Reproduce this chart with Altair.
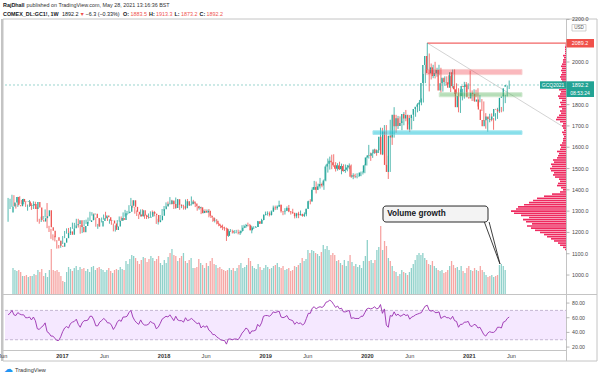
import altair as alt
import pandas as pd

FONT = "Liberation Sans"

# ---------------- data ----------------
FIRST_WEEK = "2016-06-20"          # first weekly bar (Monday)
FIRST_OPEN = 1294.0
LAST_OPEN = 1883.5

CLOSE_2016 = [1322,1340,1366,1328,1323,1357,1344,1343,1345,1324,1327,1334,1310,1343,1317,1257,1251,1267,1276,1304,1224,1208,1178,1177,1161,1137,1133,1152]
HIGH_2016 = [1362,1358,1377,1375,1336,1367,1370,1352,1358,1346,1331,1352,1337,1346,1344,1318,1264,1274,1277,1308,1338,1231,1217,1191,1184,1164,1141,1161]
LOW_2016 = [1250,1310,1320,1324,1312,1320,1335,1331,1332,1320,1302,1320,1306,1311,1310,1250,1241,1249,1260,1270,1220,1202,1170,1163,1158,1124,1125,1128]

CLOSE_2017 = [1173,1197,1205,1189,1220,1234,1239,1257,1226,1201,1230,1249,1249,1257,1285,1288,1268,1228,1228,1254,1267,1280,1271,1255,1256,1242,1212,1228,1255,1268,1258,1290,1291,1297,1325,1351,1320,1297,1284,1275,1304,1280,1272,1269,1274,1296,1288,1282,1248,1257,1278,1309]
HIGH_2017 = [1183,1207,1219,1221,1225,1246,1245,1264,1264,1235,1233,1258,1260,1270,1297,1295,1290,1270,1240,1264,1270,1284,1297,1273,1262,1259,1242,1233,1258,1275,1275,1294,1306,1301,1328,1362,1342,1317,1303,1285,1308,1309,1283,1283,1289,1299,1303,1301,1281,1264,1282,1310]
LOW_2017 = [1146,1173,1194,1185,1188,1217,1220,1234,1223,1194,1197,1228,1240,1241,1254,1279,1259,1227,1217,1227,1247,1260,1264,1254,1241,1236,1205,1204,1226,1251,1255,1254,1274,1281,1289,1324,1316,1288,1277,1263,1276,1277,1264,1263,1265,1273,1283,1276,1240,1237,1253,1280]

CLOSE_2018 = [1322,1335,1333,1350,1333,1315,1356,1330,1323,1323,1313,1347,1327,1332,1345,1336,1323,1314,1318,1291,1301,1294,1302,1278,1270,1254,1255,1241,1231,1223,1220,1219,1184,1206,1206,1200,1201,1201,1196,1207,1222,1229,1235,1234,1210,1223,1223,1226,1252,1241,1258,1283,1287]
HIGH_2018 = [1324,1341,1345,1366,1353,1346,1364,1357,1333,1331,1330,1355,1357,1345,1369,1353,1339,1318,1325,1321,1307,1309,1308,1310,1281,1270,1267,1263,1245,1235,1237,1227,1223,1215,1216,1213,1211,1212,1213,1210,1234,1236,1240,1246,1240,1231,1229,1230,1254,1251,1264,1284,1298]
LOW_2018 = [1301,1318,1324,1331,1331,1310,1311,1329,1306,1314,1307,1307,1324,1325,1339,1334,1319,1302,1307,1286,1289,1291,1292,1271,1268,1250,1247,1238,1229,1220,1211,1208,1160,1179,1202,1195,1194,1196,1191,1188,1203,1220,1222,1228,1210,1196,1216,1222,1226,1240,1243,1257,1280]

CLOSE_2019 = [1289,1282,1298,1317,1314,1322,1329,1299,1298,1302,1315,1298,1295,1291,1276,1289,1281,1287,1277,1285,1311,1346,1345,1400,1413,1400,1416,1427,1420,1444,1509,1523,1537,1529,1515,1499,1515,1497,1512,1488,1494,1505,1514,1462,1468,1463,1465,1465,1481,1481,1515,1552]
HIGH_2019 = [1299,1298,1303,1326,1326,1327,1349,1332,1301,1314,1322,1329,1300,1311,1293,1292,1297,1303,1288,1294,1311,1349,1356,1412,1442,1439,1429,1456,1434,1449,1518,1547,1556,1565,1567,1530,1525,1532,1523,1520,1519,1517,1524,1519,1478,1476,1478,1481,1486,1487,1519,1556]
LOW_2019 = [1279,1275,1279,1297,1305,1306,1319,1293,1281,1284,1300,1295,1284,1287,1266,1267,1267,1280,1274,1273,1276,1310,1332,1346,1400,1383,1399,1406,1412,1400,1440,1481,1495,1497,1508,1486,1490,1493,1473,1485,1480,1487,1497,1456,1450,1455,1454,1460,1464,1472,1478,1514]

CLOSE_2020 = [1562,1560,1572,1589,1573,1586,1649,1566,1674,1517,1484,1654,1646,1752,1698,1736,1700,1714,1756,1735,1751,1683,1737,1753,1780,1790,1801,1810,1901,1986,2028,1949,1947,1975,1934,1947,1962,1866,1900,1926,1906,1905,1879,1952,1887,1872,1788,1840,1840,1888,1883,1895]
HIGH_2020 = [1611,1575,1575,1593,1590,1589,1692,1691,1704,1704,1560,1729,1660,1788,1748,1747,1745,1722,1765,1775,1753,1744,1745,1776,1788,1807,1822,1829,1944,1985,2089.2,2040,1993,1987,2001,1973,1987,1973,1919,1933,1933,1938,1934,1965,1966,1900,1877,1872,1874,1907,1906,1900]
LOW_2020 = [1547,1536,1550,1569,1560,1573,1586,1563,1576,1512,1451,1567,1611,1645,1668,1686,1701,1680,1703,1722,1707,1671,1713,1723,1743,1764,1770,1797,1813,1911,1962,1862,1918,1924,1923,1931,1938,1857,1861,1888,1891,1895,1859,1886,1850,1852,1764,1761,1820,1828,1859,1872]

CLOSE_2021 = [1835,1829,1856,1850,1814,1824,1777,1728,1698,1727,1744,1733,1729,1744,1780,1777,1768,1832,1838,1877,1892.2]
HIGH_2021 = [1960,1867,1872,1870,1877,1844,1826,1815,1760,1741,1757,1759,1737,1760,1785,1797,1789,1845,1846,1890,1913.3]
LOW_2021 = [1831,1817,1818,1835,1791,1811,1770,1723,1687,1673,1717,1722,1682,1725,1733,1761,1764,1770,1807,1838,1873.2]

# volume (relative units)
VOL_2016 = [26,24,23,24,22,18,18,19,17,18,18,20,19,24,22,25,18,21,17,24,45,24,23,24,22,18,13,12]
VOL_2017 = [22,27,25,23,26,28,24,27,25,26,23,25,22,27,28,24,26,27,25,24,22,24,26,23,21,24,25,24,27,25,24,33,30,35,39,38,36,33,30,34,37,36,32,35,38,36,33,35,38,31,29,34]
VOL_2018 = [31,37,41,45,39,38,33,36,38,41,33,31,34,36,26,26,27,35,31,29,26,31,28,33,36,30,29,26,27,25,24,23,24,26,24,26,23,26,29,31,26,27,29,36,33,28,26,25,30,27,24,26,29]
VOL_2019 = [27,25,26,28,29,31,27,26,28,24,25,26,23,24,28,27,29,31,36,33,35,44,41,44,43,41,40,38,42,49,45,48,44,39,41,39,33,34,31,29,34,28,33,39,32,28,30,27,29,26,33,38]
VOL_2020 = [54,33,34,31,34,44,47,68,44,53,48,36,33,28,23,22,18,20,24,22,21,19,22,26,30,34,39,41,39,41,36,34,30,29,33,28,26,24,23,24,21,22,24,28,33,29,26,27,24,28,23,21]
VOL_2021 = [26,28,24,23,26,24,23,28,24,22,19,17,18,19,17,18,19,29,30,28,24]

# RSI (14)
RSI_2016 = [64,66,70,64,63,67,65,64,64,60,60,61,57,61,56,45,44,47,49,53,41,39,35,35,32,29,29,34]
RSI_2017 = [41,46,48,46,52,54,55,58,51,47,53,56,56,57,62,62,57,49,49,54,56,59,57,53,53,50,44,48,54,57,55,61,61,62,67,70,61,56,53,51,57,52,50,50,51,55,53,52,45,47,52,58]
RSI_2018 = [60,62,61,64,60,56,62,57,56,56,54,60,56,57,59,57,54,52,53,46,49,47,49,43,41,37,37,34,32,30,29,29,24,31,31,30,31,31,30,34,39,42,46,44,38,42,42,43,51,48,53,62,63]
RSI_2019 = [63,62,64,68,67,68,69,61,60,61,63,58,57,56,51,54,52,53,50,52,59,66,66,73,75,72,74,75,74,76,81,82,84,82,78,74,76,72,73,68,68,69,70,59,60,59,59,59,62,62,67,72]
RSI_2020 = [73,72,73,75,72,73,78,66,72,50,47,63,62,68,63,65,62,63,65,63,64,58,61,62,64,65,66,67,72,76,77,70,69,70,67,67,68,59,61,62,60,60,58,62,56,55,47,51,51,54,54,55]
RSI_2021 = [49,48,51,50,46,47,42,37,35,39,41,40,40,42,47,47,46,54,55,59,61]

# volume profile (visible range), one row every 10 USD from 1120
PROFILE_START = 1120
PROFILE_STEP = 10
PROFILE_VOL = [1,3,6,8,12,15,19,22,26,31,
               35,39,34,40,43,37,45,52,55,50,
               48,42,37,33,29,22,14,6,3,5,
               9,8,6,7,11,13,12,15,16,14,
               15,12,13,9,8,7,9,6,5,6,
               4,3,3,2,3,4,2,3,4,3,
               6,10,9,7,5,6,4,7,5,6,
               4,7,8,6,5,7,4,5,6,4,
               5,6,5,4,5,4,5,4,3,3,
               2,3,1,1,1,1,0.5]

# axis tick labels (2100 and 1900 are hidden behind the price tags)
PRICE_TICKS = [1000,1100,1200,1300,1400,1500,1600,1700,1800,2000,2200]
RSI_TICKS = [80,60,40,20]
TIME_TICK_DATES = ["2016-06-01","2017-01-01","2017-06-01","2018-01-01","2018-06-01","2019-01-01",
                   "2019-06-01","2020-01-01","2020-06-01","2021-01-01","2021-06-01"]
TIME_TICK_TEXT = ["Jun","2017","Jun","2018","Jun","2019","Jun","2020","Jun","2021","Jun"]

LAST_PRICE = 1892.2
ATH_PRICE = 2089.2

# ---------------- assemble ----------------
CLOSE = CLOSE_2016 + CLOSE_2017 + CLOSE_2018 + CLOSE_2019 + CLOSE_2020 + CLOSE_2021
HIGH = HIGH_2016 + HIGH_2017 + HIGH_2018 + HIGH_2019 + HIGH_2020 + HIGH_2021
LOW = LOW_2016 + LOW_2017 + LOW_2018 + LOW_2019 + LOW_2020 + LOW_2021
VOLUME = VOL_2016 + VOL_2017 + VOL_2018 + VOL_2019 + VOL_2020 + VOL_2021
RSI = RSI_2016 + RSI_2017 + RSI_2018 + RSI_2019 + RSI_2020 + RSI_2021
n = len(CLOSE)
assert len(HIGH) == n and len(LOW) == n and len(VOLUME) == n and len(RSI) == n, (n, len(HIGH), len(LOW), len(VOLUME), len(RSI))

dates = pd.date_range(FIRST_WEEK, periods=n, freq="7D").strftime("%Y-%m-%d")
opens = [FIRST_OPEN] + CLOSE[:-1]
opens[-1] = LAST_OPEN
up = [c >= o for o, c in zip(opens, CLOSE)]
df = pd.DataFrame({
    "d": dates, "o": opens, "c": CLOSE,
    "hi": [max(h, o, c) for h, o, c in zip(HIGH, opens, CLOSE)],
    "lo": [min(l, o, c) for l, o, c in zip(LOW, opens, CLOSE)],
    "v": VOLUME, "rsi": RSI,
    "col": ["#26a69a" if u else "#ef5350" for u in up],
    "vcol": ["#8fd1ca" if u else "#f6a6a4" for u in up],
})

prof_price = [PROFILE_START + PROFILE_STEP * i for i in range(len(PROFILE_VOL))]
prof = pd.DataFrame({"p0": [p - 3.8 for p in prof_price], "p1": [p + 3.8 for p in prof_price],
                     "w": PROFILE_VOL, "z": [0] * len(PROFILE_VOL)})


def ms(s):
    return int(pd.Timestamp(s, tz="UTC").value // 10**6)


X_START, X_END = "2016-06-09", "2021-12-14"
XS = alt.Scale(domain=[ms(X_START), ms(X_END)], range=[5, 566], nice=False)
PS = alt.Scale(domain=[911, 2202], range=[294, 19], nice=False, zero=False)
VS = alt.Scale(domain=[0, 275], range=[294, 19], nice=False)
RS = alt.Scale(domain=[16, 91], range=[350, 295], nice=False, zero=False)
PROF_S = alt.Scale(domain=[0, 561], range=[566, 5], nice=False)


def X(f="d:T"):
    return alt.X(f, scale=XS, axis=None)


layers = []

# RSI pane
rsi_band = pd.DataFrame({"a": [70], "b": [30]})
layers.append(alt.Chart(rsi_band).mark_rect(color="#f5e8ff").encode(
    x=alt.value(5), x2=alt.value(566),
    y=alt.Y("a:Q", scale=RS, axis=None), y2="b:Q"))
layers.append(alt.Chart(pd.DataFrame({"lv": [70, 30]})).mark_rule(
    color="#b8a6c8", strokeDash=[3, 2], strokeWidth=0.8).encode(
    x=alt.value(5), x2=alt.value(566), y=alt.Y("lv:Q", scale=RS, axis=None)))
layers.append(alt.Chart(df).mark_line(color="#9a2fb0", strokeWidth=0.9).encode(
    x=X(), y=alt.Y("rsi:Q", scale=RS, axis=None)))

# volume
layers.append(alt.Chart(df).mark_bar(size=1.3).encode(
    x=X(), y=alt.Y("v:Q", scale=VS, axis=None), color=alt.Color("vcol:N", scale=None)))

# trend line from the high and the 2089.2 line
trend = pd.DataFrame({"d": ["2020-08-03"], "d2": [X_END], "p": [ATH_PRICE], "p2": [1688]})
layers.append(alt.Chart(trend).mark_rule(color="#c8c8c8", strokeWidth=0.8).encode(
    x=X(), x2="d2:T", y=alt.Y("p:Q", scale=PS, axis=None), y2="p2:Q"))
layers.append(alt.Chart(trend).mark_rule(color="#f26565", strokeWidth=1.2).encode(
    x=X(), x2="d2:T", y=alt.Y("p:Q", scale=PS, axis=None)))

# last-price dotted line
lastp = pd.DataFrame({"p": [LAST_PRICE]})
layers.append(alt.Chart(lastp).mark_rule(color="#7fc9c1", strokeDash=[2, 2], strokeWidth=0.8).encode(
    x=alt.value(5), x2=alt.value(540), y=alt.Y("p:Q", scale=PS, axis=None)))

# candles
layers.append(alt.Chart(df).mark_rule(strokeWidth=0.8).encode(
    x=X(), y=alt.Y("lo:Q", scale=PS, axis=None), y2="hi:Q", color=alt.Color("col:N", scale=None)))
layers.append(alt.Chart(df).mark_bar(size=1.3).encode(
    x=X(), y=alt.Y("o:Q", scale=PS, axis=None), y2="c:Q", color=alt.Color("col:N", scale=None)))

# zones
zones = [
    ("2020-07-27", "2021-07-09", 1941, 1965, "#f23645", "#f07a7a", 0.35),
    ("2020-09-15", "2021-07-09", 1837, 1856, "#4caf50", "#8cc88a", 0.4),
    ("2020-01-21", "2021-07-09", 1660, 1677, "#26c6da", "#5fd3e3", 0.55),
]
for d1, d2, p1, p2, fill, stroke, op in zones:
    zdf = pd.DataFrame({"d": [d1], "d2": [d2], "p": [p1], "p2": [p2]})
    layers.append(alt.Chart(zdf).mark_rect(color=fill, opacity=op, stroke=stroke, strokeWidth=1,
                                           strokeOpacity=1).encode(
        x=X(), x2="d2:T", y=alt.Y("p:Q", scale=PS, axis=None), y2="p2:Q"))

# volume profile
layers.append(alt.Chart(prof).mark_rect(color="#ee2a5f").encode(
    x=alt.X("w:Q", scale=PROF_S, axis=None), x2="z:Q",
    y=alt.Y("p0:Q", scale=PS, axis=None), y2="p1:Q"))

# callout "Volume growth"
box = pd.DataFrame({"d": ["2020-02-26"], "d2": ["2021-03-09"], "p": [1249], "p2": [1324]})
layers.append(alt.Chart(box).mark_rect(color="#f3f3f3", stroke="#2a2a2a", strokeWidth=1,
                                       cornerRadius=3).encode(
    x=X(), x2="d2:T", y=alt.Y("p:Q", scale=PS, axis=None), y2="p2:Q"))
ptr = pd.DataFrame({"d": ["2021-02-24", "2021-03-13"], "d2": ["2021-04-21", "2021-04-21"],
                    "p": [1249, 1249], "p2": [1052, 1052]})
layers.append(alt.Chart(ptr).mark_rule(color="#2a2a2a", strokeWidth=0.9).encode(
    x=X(), x2="d2:T", y=alt.Y("p:Q", scale=PS, axis=None), y2="p2:Q"))
ctext = pd.DataFrame({"d": ["2020-03-12"], "p": [1286], "t": ["Volume growth"]})
layers.append(alt.Chart(ctext).mark_text(align="left", baseline="middle", font=FONT, fontSize=8.2,
                                         fontWeight="bold", color="#131722").encode(
    x=X(), y=alt.Y("p:Q", scale=PS, axis=None), text="t:N"))

# frame
FRAME = pd.DataFrame({
    "x": [3, 3, 3, 597, 3, 566.5, 3],
    "x2": [597, 597, 3, 597, 597, 566.5, 566.5],
    "y": [19, 361, 19, 19, 294.5, 19, 350.5],
    "y2": [19, 361, 361, 361, 294.5, 361, 350.5],
})
layers.append(alt.Chart(FRAME).mark_rule(color="#c4c4c4", strokeWidth=1).encode(
    x=alt.X("x:Q", scale=None), x2="x2:Q", y=alt.Y("y:Q", scale=None), y2="y2:Q"))
layers.append(alt.Chart(pd.DataFrame({"a": [0]})).mark_rule(color="#c4c4c4", strokeWidth=2).encode(
    x=alt.value(2), y=alt.value(19), y2=alt.value(361)))

# price axis labels + ticks
pt = pd.DataFrame({"p": PRICE_TICKS, "t": [f"{v:.1f}" for v in PRICE_TICKS]})
layers.append(alt.Chart(pt).mark_rule(color="#9a9a9a", strokeWidth=0.7).encode(
    x=alt.value(566.5), x2=alt.value(569.5), y=alt.Y("p:Q", scale=PS, axis=None)))
layers.append(alt.Chart(pt).mark_text(align="left", baseline="middle", font=FONT, fontSize=5.4,
                                      color="#4a4a4a").encode(
    x=alt.value(572), y=alt.Y("p:Q", scale=PS, axis=None), text="t:N"))

# RSI axis labels
rt = pd.DataFrame({"r": RSI_TICKS, "t": [f"{v:.2f}" for v in RSI_TICKS]})
layers.append(alt.Chart(rt).mark_rule(color="#9a9a9a", strokeWidth=0.7).encode(
    x=alt.value(566.5), x2=alt.value(569.5), y=alt.Y("r:Q", scale=RS, axis=None)))
layers.append(alt.Chart(rt).mark_text(align="left", baseline="middle", font=FONT, fontSize=5.2,
                                      color="#4a4a4a").encode(
    x=alt.value(572), y=alt.Y("r:Q", scale=RS, axis=None), text="t:N"))

# time axis labels
tt = pd.DataFrame({"d": TIME_TICK_DATES, "t": TIME_TICK_TEXT,
                   "yr": [t != "Jun" for t in TIME_TICK_TEXT]})
layers.append(alt.Chart(tt[tt.yr]).mark_text(baseline="middle", font=FONT, fontSize=5.6,
                                             fontWeight="bold", color="#333333").encode(
    x=X(), y=alt.value(355.5), text="t:N"))
layers.append(alt.Chart(tt[~tt.yr]).mark_text(baseline="middle", font=FONT, fontSize=5.6,
                                              color="#444444").encode(
    x=X(), y=alt.value(355.5), text="t:N"))


def box_px(x1, x2, y1, y2, fill, stroke=None):
    kw = {"color": fill}
    if stroke:
        kw.update(stroke=stroke, strokeWidth=0.7)
    return alt.Chart(pd.DataFrame({"a": [0]})).mark_rect(**kw).encode(
        x=alt.value(x1), x2=alt.value(x2), y=alt.value(y1), y2=alt.value(y2))


def txt(t, x, y, size=5.4, color="#131722", bold=False, align="left"):
    kw = dict(align=align, baseline="middle", font=FONT, fontSize=size, color=color)
    if bold:
        kw["fontWeight"] = "bold"
    return alt.Chart(pd.DataFrame({"t": [t]})).mark_text(**kw).encode(
        x=alt.value(x), y=alt.value(y), text="t:N")


# price label boxes on the axis
layers.append(box_px(566.5, 594, 39, 47.5, "#f0504a"))
layers.append(txt(f"{ATH_PRICE:.1f}", 580, 43.3, 5.4, "white", align="center"))
layers.append(box_px(540, 566.5, 81.3, 88.7, "#22a394"))
layers.append(txt("GCQ2021", 553, 85, 5.0, "white", align="center"))
layers.append(box_px(566.5, 594, 81.3, 97, "#22a394"))
layers.append(txt(f"{LAST_PRICE:.1f}", 580, 85, 5.4, "white", align="center"))
layers.append(txt("08:53:24", 580, 93, 5.0, "white", align="center"))
layers.append(box_px(572, 586, 24.5, 31, "white", "#bbbbbb"))
layers.append(txt("USD", 579, 27.8, 4.6, "#555555", align="center"))

# header
layers.append(txt("RajDhall", 3, 5.3, 5.4, "#131722", bold=True))
layers.append(txt("published on TradingView.com, May 28, 2021 13:16:36 BST", 26.5, 5.3, 5.4, "#333333"))
HEADER2 = [
    ("COMEX_DL:GC1!, 1W", 3, "#131722", True),
    ("1892.2", 62, "#131722", False),
    ("\u25bc", 79.5, "#ef5350", False),
    ("\u22126.3 (\u22120.33%)", 85.5, "#131722", False),
    ("O:", 123, "#131722", True),
    ("1883.5", 130.5, "#ef5350", False),
    ("H:", 149, "#131722", True),
    ("1913.3", 156, "#ef5350", False),
    ("L:", 174.5, "#131722", True),
    ("1873.2", 181, "#ef5350", False),
    ("C:", 199.5, "#131722", True),
    ("1892.2", 206.5, "#ef5350", False),
]
for t, x, c, b in HEADER2:
    layers.append(txt(t, x, 13.5, 5.4, c, bold=b))

# TradingView logo
layers.append(txt("\u2601", 4, 369, 9, "#2196f3"))
layers.append(txt("TradingView", 15, 369.5, 5.6, "#333333"))

chart = alt.layer(*layers).resolve_scale(x="independent", y="independent").properties(
    width=600, height=377, autosize=alt.AutoSizeParams(type="none"), padding=0,
    background="white",
).configure_view(strokeWidth=0)

chart.save("out.html", embed_options={"renderer": "svg", "actions": False})
